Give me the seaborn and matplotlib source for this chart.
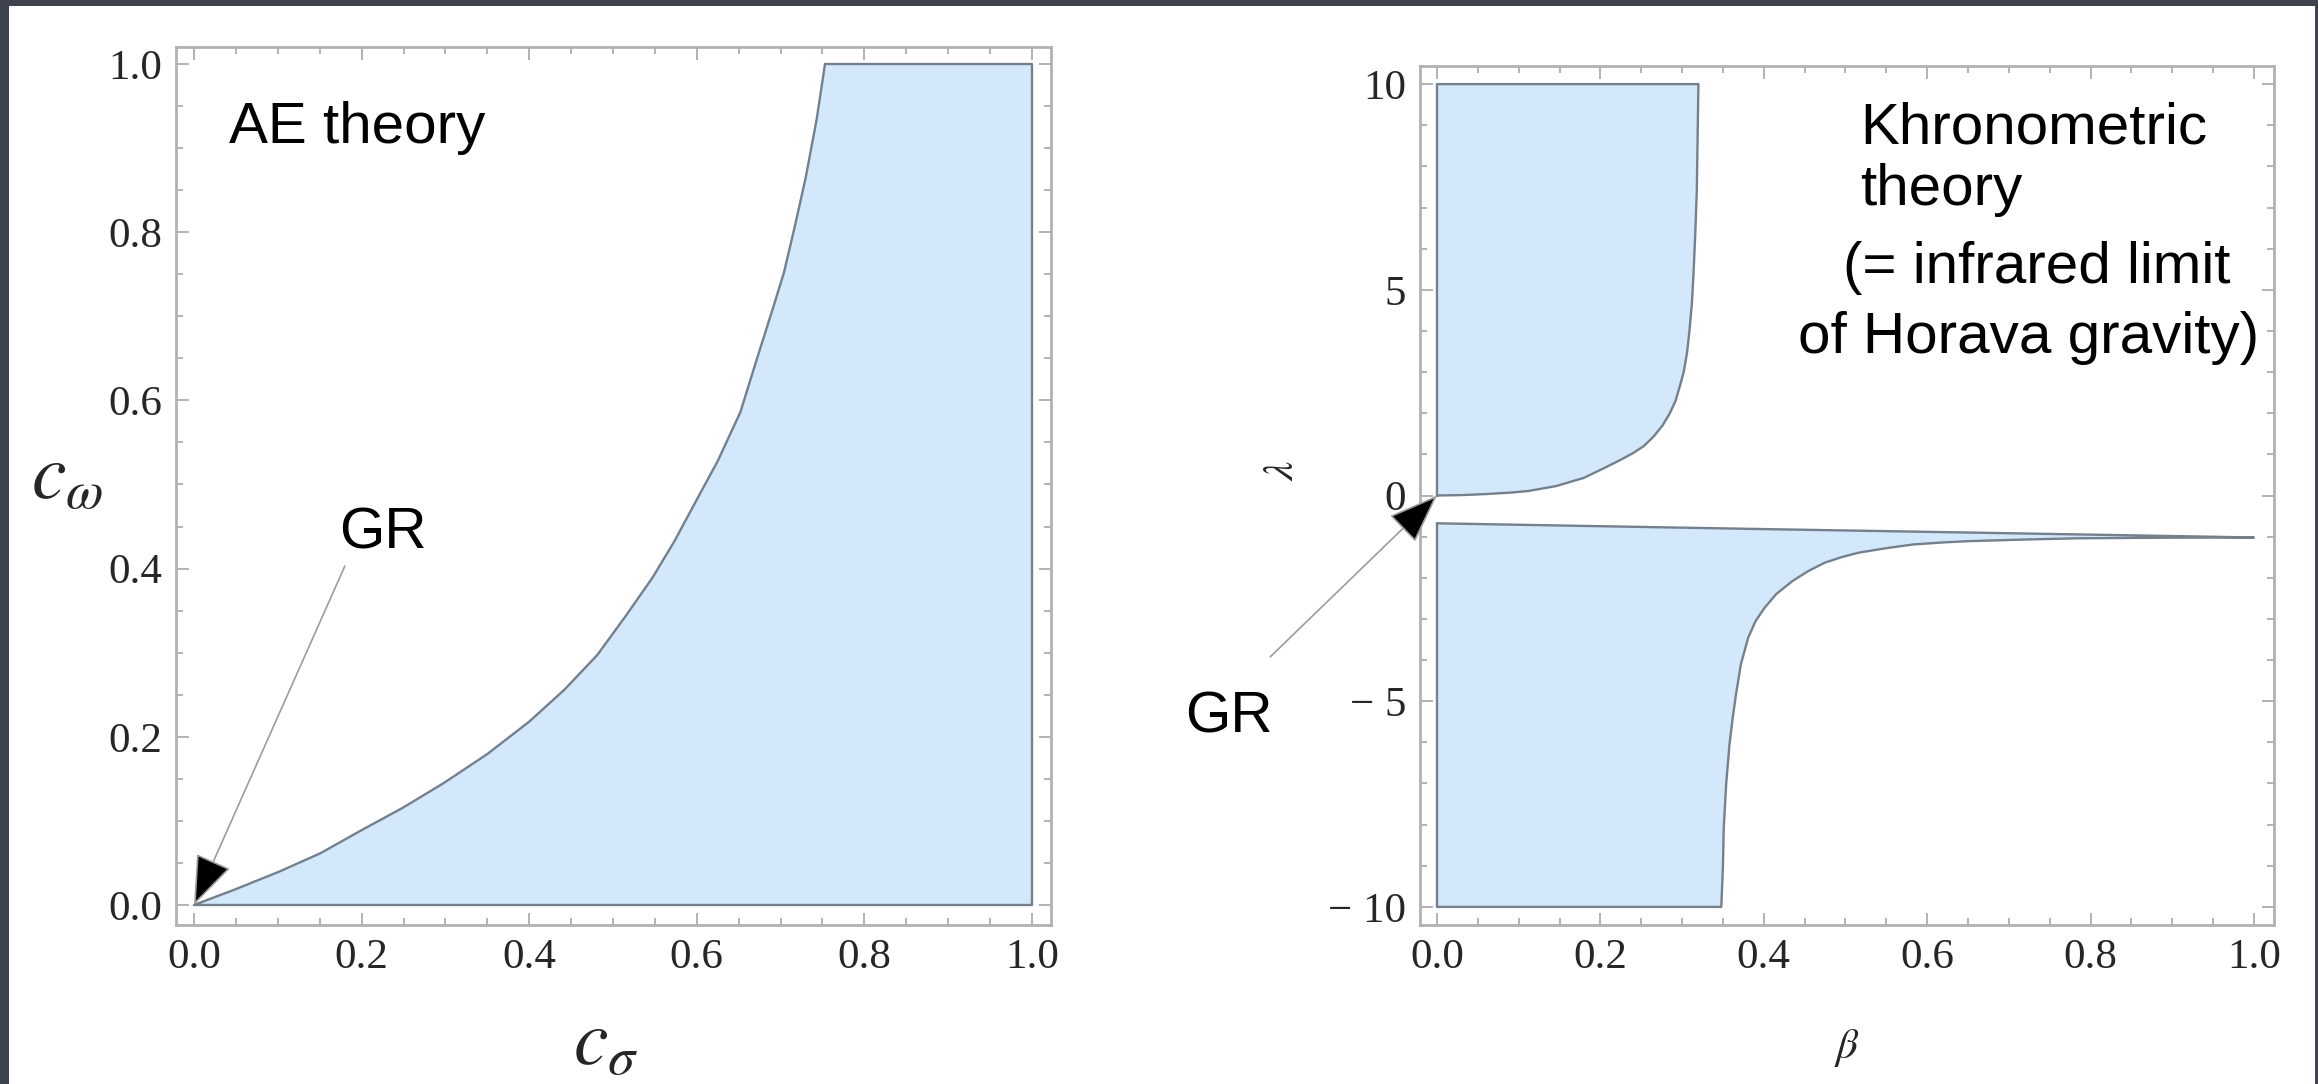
import numpy as np
import pandas as pd
import matplotlib
matplotlib.use("Agg")
import matplotlib.pyplot as plt
import seaborn as sns
from matplotlib.ticker import MultipleLocator
from matplotlib.patches import Rectangle

# values
# AE theory: upper edge of the allowed region, c_omega against c_sigma
ae_c_sigma = [0.0, 0.049, 0.1015, 0.1506, 0.2, 0.249, 0.298, 0.350, 0.4, 0.442, 0.481, 0.514,
              0.547, 0.573, 0.6, 0.625, 0.652, 0.671, 0.691, 0.704, 0.717, 0.730, 0.743, 0.753]
ae_c_omega = [0.0, 0.0185, 0.0396, 0.0614, 0.089, 0.1155, 0.145, 0.1795, 0.218, 0.256, 0.297, 0.342,
              0.389, 0.432, 0.482, 0.528, 0.586, 0.647, 0.710, 0.752, 0.807, 0.865, 0.934, 1.0]

# Khronometric theory, upper island: right edge lambda(beta)
kh_up_beta = [0.0, 0.03, 0.06, 0.09, 0.112, 0.146, 0.18, 0.206, 0.224, 0.240, 0.253, 0.265, 0.276,
              0.285, 0.292, 0.297, 0.302, 0.306, 0.309, 0.312, 0.314, 0.316, 0.318, 0.319, 0.320]
kh_up_lambda = [0.0, 0.01, 0.035, 0.07, 0.11, 0.23, 0.43, 0.68, 0.86, 1.03, 1.2, 1.43, 1.7,
                2.0, 2.3, 2.64, 3.0, 3.46, 4.0, 4.67, 5.4, 6.29, 7.4, 8.72, 10.0]

# lower island: top edge and curved bottom/right edge
kh_lo_top_beta = [0.0, 0.381, 0.65, 1.0]
kh_lo_top_lambda = [-0.676, -0.81, -0.90, -1.02]
kh_lo_bot_beta = [0.348, 0.350, 0.351, 0.354, 0.358, 0.362, 0.366, 0.372, 0.381, 0.390, 0.401, 0.415,
                  0.435, 0.455, 0.475, 0.495, 0.516, 0.55, 0.583, 0.62, 0.65, 0.72, 0.785, 0.9, 1.0]
kh_lo_bot_lambda = [-10.0, -9.0, -8.07, -7.0, -6.05, -5.4, -4.83, -4.1, -3.45, -3.05, -2.73, -2.40,
                    -2.08, -1.83, -1.63, -1.50, -1.39, -1.28, -1.19, -1.14, -1.11, -1.07, -1.04, -1.025, -1.02]

x_ticks = [0.0, 0.2, 0.4, 0.6, 0.8, 1.0]
ae_y_ticks = [0.0, 0.2, 0.4, 0.6, 0.8, 1.0]
kh_y_ticks = [-10, -5, 0, 5, 10]
kh_y_labels = ["\u2212 10", "\u2212 5", "0", "5", "10"]

sns.set_theme(style="white")
plt.rcParams["font.family"] = ["Liberation Sans", "DejaVu Sans"]
plt.rcParams["mathtext.fontset"] = "stix"

FILL = "#d4e8fb"
EDGE = "#74808c"
FRAME = "#b2b2b2"
TXT = 42
W, H = 2318, 1084

fig = plt.figure(figsize=(W / 100, H / 100), dpi=100, facecolor="#3e434d")
fig.patches.append(Rectangle((9 / W, 0), 2306 / W, 1078 / H, transform=fig.transFigure,
                             facecolor="white", edgecolor="none", zorder=-10))

ax1 = fig.add_axes([176 / W, (H - 925) / H, 875 / W, 878 / H])
ax2 = fig.add_axes([1420 / W, (H - 925) / H, 854 / W, 859 / H])


def frame_style(ax, x_minor, y_minor):
    for s in ax.spines.values():
        s.set_color(FRAME)
        s.set_linewidth(2)
    ax.xaxis.set_minor_locator(MultipleLocator(x_minor))
    ax.yaxis.set_minor_locator(MultipleLocator(y_minor))
    ax.tick_params(which="both", direction="in", top=True, right=True,
                   bottom=True, left=True, color="#a5a5a5", width=1.2)
    ax.tick_params(which="major", length=9, pad=10, labelsize=31, labelcolor="#262626")
    ax.tick_params(which="minor", length=5)
    for lab in ax.get_xticklabels() + ax.get_yticklabels():
        lab.set_fontfamily("Liberation Serif")


# ---- left: AE theory
ae_x = ae_c_sigma + [1.0, 1.0, 0.0]
ae_y = ae_c_omega + [1.0, 0.0, 0.0]
ax1.fill(ae_x, ae_y, facecolor=FILL, edgecolor="none", zorder=1)
sns.lineplot(x=ae_x, y=ae_y, sort=False, estimator=None, color=EDGE, lw=1.7, ax=ax1, zorder=2)
ax1.set_xlim(-0.0215, 1.0227)
ax1.set_ylim(-0.0238, 1.0202)
ax1.set_xticks(x_ticks)
ax1.set_xticklabels([f"{v:.1f}" for v in x_ticks])
ax1.set_yticks(ae_y_ticks)
ax1.set_yticklabels([f"{v:.1f}" for v in ae_y_ticks])
frame_style(ax1, 0.05, 0.05)

ax1.set_xlabel(r"$c_{\sigma}$", fontsize=56, va="center")
ax1.xaxis.set_label_coords(0.491, -0.136)
ax1.set_ylabel(r"$c_{\omega}$", fontsize=56, rotation=0, va="center", ha="center")
ax1.yaxis.set_label_coords(-0.1246, 0.509)

ax1.text(0.0418, 0.906, "AE theory", fontsize=TXT, color="black", ha="left", va="baseline")
ax1.text(0.1735, 0.4238, "GR", fontsize=TXT, color="black", ha="left", va="baseline")
ax1.annotate("", xy=(0.0, 0.0), xytext=(0.18, 0.403),
             arrowprops=dict(arrowstyle="-|>,head_length=1.6,head_width=0.6", fc="black",
                             ec="#9c9c9c", lw=1.2, shrinkA=0, shrinkB=0, mutation_scale=20),
             annotation_clip=False, zorder=5)

# ---- right: Khronometric theory
up_x = kh_up_beta + [0.0, 0.0]
up_y = kh_up_lambda + [10.0, 0.0]
lo_x = kh_lo_top_beta + kh_lo_bot_beta[::-1] + [0.0, 0.0]
lo_y = kh_lo_top_lambda + kh_lo_bot_lambda[::-1] + [-10.0, kh_lo_top_lambda[0]]

for px, py in [(up_x, up_y), (lo_x, lo_y)]:
    ax2.fill(px, py, facecolor=FILL, edgecolor="none", zorder=1)
    sns.lineplot(x=px, y=py, sort=False, estimator=None, color=EDGE, lw=1.7, ax=ax2, zorder=2)

ax2.set_xlim(-0.0208, 1.0245)
ax2.set_ylim(-10.44, 10.44)
ax2.set_xticks(x_ticks)
ax2.set_xticklabels([f"{v:.1f}" for v in x_ticks])
ax2.set_yticks(kh_y_ticks)
ax2.set_yticklabels(kh_y_labels)
frame_style(ax2, 0.05, 1)

ax2.set_xlabel(r"$\beta$", fontsize=31, va="center")
ax2.xaxis.set_label_coords(0.5, -0.143)
ax2.set_ylabel(r"$\lambda$", fontsize=31, rotation=90, va="center", ha="center")
ax2.yaxis.set_label_coords(-0.1616, 0.5297)

for tx, ty, s in [(0.5177, 8.56, "Khronometric"), (0.5177, 7.06, "theory"),
                  (0.497, 5.17, "(= infrared limit"), (0.442, 3.46, "of Horava gravity)")]:
    ax2.text(tx, ty, s, fontsize=TXT, color="black", ha="left", va="baseline")
ax2.text(-0.308, -5.77, "GR", fontsize=TXT, color="black", ha="left", va="baseline", clip_on=False)
ax2.annotate("", xy=(0.0, 0.0), xytext=(-0.204, -3.92),
             arrowprops=dict(arrowstyle="-|>,head_length=1.6,head_width=0.6", fc="black",
                             ec="#9c9c9c", lw=1.2, shrinkA=0, shrinkB=0, mutation_scale=20),
             annotation_clip=False, zorder=5)

for ax in (ax1, ax2):
    leg = ax.get_legend()
    if leg is not None:
        leg.remove()

fig.savefig("out.png", dpi=100, facecolor=fig.get_facecolor())
